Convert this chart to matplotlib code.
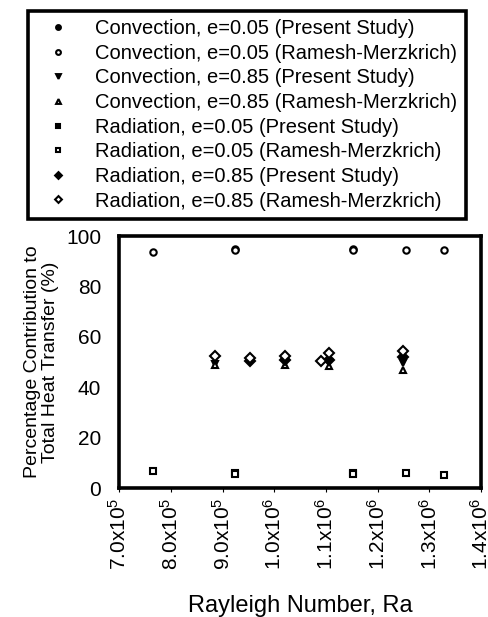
import matplotlib
matplotlib.use("Agg")
import matplotlib.pyplot as plt
from matplotlib.ticker import FixedLocator

plt.rcParams['font.family'] = ['Liberation Sans', 'DejaVu Sans']
plt.rcParams['mathtext.fontset'] = 'custom'
plt.rcParams['mathtext.rm'] = 'Liberation Sans'
plt.rcParams['mathtext.default'] = 'regular'

# ---- data ----
ra_conv05_ramesh = [7.66e5, 9.25e5, 1.152e6, 1.254e6, 1.328e6]
conv05_ramesh = [93.5, 94.5, 94.5, 94.5, 94.5]
ra_conv05_present = [9.25e5, 1.152e6]
conv05_present = [94.9, 94.9]

ra_conv85_present = [8.86e5, 9.54e5, 1.02e6, 1.105e6, 1.248e6]
conv85_present = [49.3, 50.0, 50.0, 50.0, 49.5]
ra_conv85_ramesh = [8.86e5, 1.02e6, 1.105e6, 1.248e6]
conv85_ramesh = [48.8, 49.0, 48.5, 47.0]

ra_rad05_present = [9.25e5, 1.152e6]
rad05_present = [6.0, 6.0]
ra_rad05_ramesh = [7.66e5, 9.25e5, 1.152e6, 1.254e6, 1.328e6]
rad05_ramesh = [6.7, 5.5, 5.5, 6.0, 5.3]

ra_rad85_present = [9.54e5, 1.02e6, 1.105e6, 1.248e6]
rad85_present = [50.5, 50.8, 50.7, 51.8]
ra_rad85_ramesh = [8.86e5, 9.54e5, 1.02e6, 1.091e6, 1.105e6, 1.248e6]
rad85_ramesh = [52.5, 51.5, 52.5, 50.5, 53.5, 54.5]

x_ticks = [7.0e5, 8.0e5, 9.0e5, 1.0e6, 1.1e6, 1.2e6, 1.3e6, 1.4e6]
x_ticklabels = ['7.0x10$^5$', '8.0x10$^5$', '9.0x10$^5$', '1.0x10$^6$',
                '1.1x10$^6$', '1.2x10$^6$', '1.3x10$^6$', '1.4x10$^6$']
y_ticks = [0, 20, 40, 60, 80, 100]

labels = [
    'Convection, e=0.05 (Present Study)',
    'Convection, e=0.05 (Ramesh-Merzkrich)',
    'Convection, e=0.85 (Present Study)',
    'Convection, e=0.85 (Ramesh-Merzkrich)',
    'Radiation, e=0.05 (Present Study)',
    'Radiation, e=0.05 (Ramesh-Merzkrich)',
    'Radiation, e=0.85 (Present Study)',
    'Radiation, e=0.85 (Ramesh-Merzkrich)',
]

fig = plt.figure(figsize=(4.88, 6.17), dpi=100)
ax = fig.add_axes([0.244, 0.209, 0.742, 0.4085])

ms = 4.6
mew = 1.5
filled = dict(color='black', markersize=ms, linestyle='none', markeredgewidth=mew)
opened = dict(markerfacecolor='white', markeredgecolor='black', markersize=ms,
              linestyle='none', markeredgewidth=mew)

h = []
h.append(ax.plot(ra_conv05_present, conv05_present, marker='o', **filled)[0])
h.append(ax.plot(ra_conv05_ramesh, conv05_ramesh, marker='o', **opened)[0])
h.append(ax.plot(ra_conv85_present, conv85_present, marker='v', **filled)[0])
h.append(ax.plot(ra_conv85_ramesh, conv85_ramesh, marker='^', **opened)[0])
h.append(ax.plot(ra_rad05_present, rad05_present, marker='s', **filled)[0])
h.append(ax.plot(ra_rad05_ramesh, rad05_ramesh, marker='s', **opened)[0])
h.append(ax.plot(ra_rad85_present, rad85_present, marker='D', **filled)[0])
h.append(ax.plot(ra_rad85_ramesh, rad85_ramesh, marker='D', **opened)[0])

ax.set_xlim(7.0e5, 1.4e6)
ax.set_ylim(0, 100)
ax.xaxis.set_major_locator(FixedLocator(x_ticks))
ax.set_xticklabels(x_ticklabels, rotation=90, fontsize=15)
ax.set_yticks(y_ticks)
ax.set_yticklabels([str(v) for v in y_ticks], fontsize=15)
ax.tick_params(axis='x', direction='out', length=3, width=0.8, pad=4)
ax.tick_params(axis='y', direction='out', length=0, pad=13)
for s in ax.spines.values():
    s.set_linewidth(2.6)

ax.set_xlabel('Rayleigh Number, Ra', fontsize=17, labelpad=18)
ax.set_ylabel('Percentage Contribution to\nTotal Heat Transfer (%)', fontsize=14,
              labelpad=5, linespacing=1.1)

leg = fig.legend(h, labels, loc='upper left',
                 bbox_to_anchor=(28 / 488, 1 - 11 / 617),
                 fontsize=14.5, frameon=True, fancybox=False, framealpha=1,
                 borderpad=0.4, handlelength=2.2, handletextpad=0.75,
                 labelspacing=0.28, markerscale=0.75, borderaxespad=0)
leg.get_frame().set_edgecolor('black')
leg.get_frame().set_linewidth(2.6)

fig.savefig('out.png', dpi=100)
